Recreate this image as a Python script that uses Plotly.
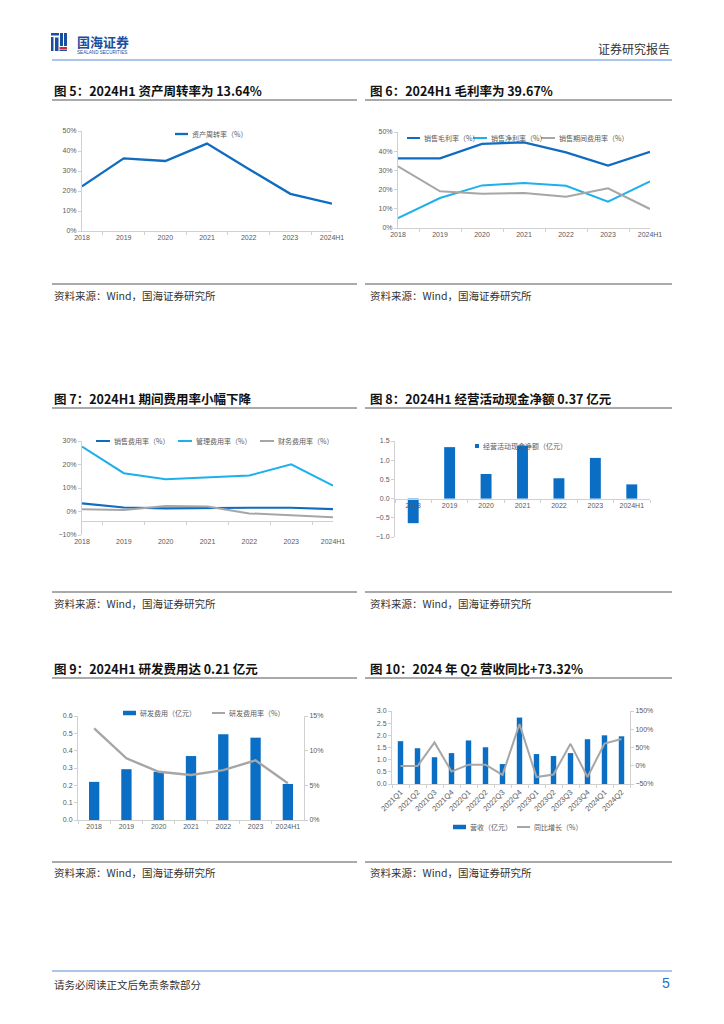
import plotly.graph_objects as go

W, H = 724, 1024
def X(px): return px / W
def Y(py): return 1 - py / H

# ---------------- data ----------------
years = ["2018", "2019", "2020", "2021", "2022", "2023", "2024H1"]

turnover = [22.3, 36.3, 35.0, 43.7, 31.0, 18.6, 13.64]

gross_margin = [36.3, 36.3, 43.8, 44.6, 39.4, 32.5, 39.67]
net_margin = [5.2, 15.6, 22.2, 23.4, 22.0, 13.7, 24.3]
period_exp = [32.1, 19.1, 17.9, 18.2, 16.3, 20.7, 9.9]

sales_exp = [3.5, 1.7, 1.3, 1.6, 1.6, 1.6, 1.0]
admin_exp = [27.6, 16.3, 13.7, 14.4, 15.3, 20.1, 11.0]
fin_exp = [1.0, 0.6, 2.3, 2.1, -0.8, -1.6, -2.4]

op_cash = [-0.64, 1.34, 0.64, 1.38, 0.53, 1.06, 0.37]

rd_cost = [0.22, 0.293, 0.278, 0.369, 0.494, 0.475, 0.208]
rd_rate = [13.2, 8.9, 6.95, 6.5, 7.2, 8.6, 5.3]

quarters = ["2021Q1", "2021Q2", "2021Q3", "2021Q4", "2022Q1", "2022Q2", "2022Q3",
            "2022Q4", "2023Q1", "2023Q2", "2023Q3", "2023Q4", "2024Q1", "2024Q2"]
revenue = [1.76, 1.47, 1.10, 1.27, 1.79, 1.51, 0.82, 2.73, 1.23, 1.15, 1.27, 1.84, 2.00, 1.96]
rev_yoy = [-1, -1, 64, -16, 3, 3, -25, 114, -31, -24, 60, -31, 61, 73.32]

titles = ["图 5：2024H1 资产周转率为 13.64%", "图 6：2024H1 毛利率为 39.67%",
          "图 7：2024H1 期间费用率小幅下降", "图 8：2024H1 经营活动现金净额 0.37 亿元",
          "图 9：2024H1 研发费用达 0.21 亿元", "图 10：2024 年 Q2 营收同比+73.32%"]
source = "资料来源：Wind，国海证券研究所"

# ---------------- style ----------------
DARK = "#0f6cc0"
BAR = "#0a6fc4"
LIGHT = "#1eb0ea"
GRAY = "#a6a6a6"
AX = "#d0d0d0"
TXT = "#595959"
CJK = "Noto Sans CJK SC"
LAT = "Liberation Sans, Noto Sans CJK SC"

fig = go.Figure()

# chart 5
fig.add_trace(go.Scatter(x=years, y=turnover, mode="lines", line=dict(color=DARK, width=2.3),
                         xaxis="x", yaxis="y", name="资产周转率（%）"))
# chart 6
fig.add_trace(go.Scatter(x=years, y=gross_margin, mode="lines", line=dict(color=DARK, width=2.2),
                         xaxis="x2", yaxis="y2", name="销售毛利率（%）"))
fig.add_trace(go.Scatter(x=years, y=net_margin, mode="lines", line=dict(color=LIGHT, width=2),
                         xaxis="x2", yaxis="y2", name="销售净利率（%）"))
fig.add_trace(go.Scatter(x=years, y=period_exp, mode="lines", line=dict(color=GRAY, width=2),
                         xaxis="x2", yaxis="y2", name="销售期间费用率（%）"))
# chart 7
fig.add_trace(go.Scatter(x=years, y=sales_exp, mode="lines", line=dict(color=DARK, width=2.2),
                         xaxis="x3", yaxis="y3", name="销售费用率（%）"))
fig.add_trace(go.Scatter(x=years, y=admin_exp, mode="lines", line=dict(color=LIGHT, width=2),
                         xaxis="x3", yaxis="y3", name="管理费用率（%）"))
fig.add_trace(go.Scatter(x=years, y=fin_exp, mode="lines", line=dict(color=GRAY, width=2),
                         xaxis="x3", yaxis="y3", name="财务费用率（%）"))
# chart 8
fig.add_trace(go.Bar(x=years, y=op_cash, marker=dict(color=BAR, line=dict(width=0)), width=0.3,
                     xaxis="x4", yaxis="y4", name="经营活动现金净额（亿元）"))
# chart 9
fig.add_trace(go.Bar(x=years, y=rd_cost, marker=dict(color=BAR, line=dict(width=0)), width=0.32,
                     xaxis="x5", yaxis="y5", name="研发费用（亿元）"))
fig.add_trace(go.Scatter(x=years, y=rd_rate, mode="lines", line=dict(color=GRAY, width=2.4),
                         xaxis="x5", yaxis="y6", name="研发费用率（%）"))
# chart 10
fig.add_trace(go.Bar(x=quarters, y=revenue, marker=dict(color=BAR, line=dict(width=0)), width=0.32,
                     xaxis="x6", yaxis="y7", name="营收（亿元）"))
fig.add_trace(go.Scatter(x=quarters, y=rev_yoy, mode="lines", line=dict(color=GRAY, width=2),
                         xaxis="x6", yaxis="y8", name="同比增长（%）"))

tickfont = dict(size=7, color=TXT, family=LAT)

def xax(x0, x1, anchor, **kw):
    d = dict(domain=[X(x0), X(x1)], anchor=anchor, type="category", showline=True,
             linecolor=AX, linewidth=1, ticks="outside", tickson="boundaries", ticklen=3,
             tickcolor=AX, tickfont=tickfont, showgrid=False, zeroline=False, fixedrange=True,
             automargin=False, tickangle=0)
    d.update(kw)
    return d

def yax(ytop, ybot, anchor, rng, dtick, **kw):
    d = dict(domain=[Y(ybot), Y(ytop)], anchor=anchor, range=rng, dtick=dtick, showline=True,
             linecolor=AX, linewidth=1, ticks="outside", ticklen=3, tickcolor=AX,
             tickfont=tickfont, showgrid=False, zeroline=False, fixedrange=True,
             automargin=False)
    d.update(kw)
    return d

layout = dict(
    width=W, height=H, margin=dict(l=0, r=0, t=0, b=0, pad=0), autosize=False,
    paper_bgcolor="white", plot_bgcolor="rgba(0,0,0,0)", showlegend=False,
    font=dict(family=CJK, color="#222"),
    xaxis=xax(82, 332, "y"),
    yaxis=yax(131, 231, "x", [0, 50], 10, ticksuffix="%"),
    xaxis2=xax(398, 650, "y2"),
    yaxis2=yax(132, 228, "x2", [0, 50], 10, ticksuffix="%"),
    xaxis3=xax(82, 333, "free", position=Y(521), ticklabelstandoff=14),
    yaxis3=yax(441, 535, "x3", [-10, 30], 10, ticksuffix="%"),
    xaxis4=xax(395, 650, "free", position=Y(441 + 1.5 / 2.5 * 96)),
    yaxis4=yax(441, 537, "x4", [-1, 1.5], 0.5, tickformat=".1f"),
    xaxis5=xax(78, 304, "y5"),
    yaxis5=yax(716, 820, "x5", [0, 0.6], 0.1, tickformat=".1f"),
    yaxis6=yax(716, 820, "x5", [0, 15], 5, ticksuffix="%", overlaying="y5", side="right"),
    xaxis6=xax(392, 630, "y7", tickangle=-45, tickfont=dict(size=7.5, color=TXT, family=LAT)),
    yaxis7=yax(711, 784, "x6", [0, 3], 0.5, tickformat=".1f"),
    yaxis8=yax(711, 784, "x6", [-50, 150], 50, ticksuffix="%", overlaying="y7", side="right"),
)
fig.update_layout(**layout)

shapes = []
ann = []

def hline(x0, x1, y, color, width):
    shapes.append(dict(type="line", xref="paper", yref="paper", x0=X(x0), x1=X(x1),
                       y0=Y(y), y1=Y(y), line=dict(color=color, width=width)))

def rect(x0, x1, y0, y1, color):
    shapes.append(dict(type="rect", xref="paper", yref="paper", x0=X(x0), x1=X(x1),
                       y0=Y(y1), y1=Y(y0), fillcolor=color, line=dict(width=0)))

def text(x, y, s, size, color="#222", xanchor="left", bold=False, family=CJK):
    if bold:
        s = "<b>" + s + "</b>"
    ann.append(dict(xref="paper", yref="paper", x=X(x), y=Y(y), text=s, showarrow=False,
                    xanchor=xanchor, yanchor="middle", font=dict(size=size, color=color, family=family)))

def leg_line(x0, x1, y, color, label, w=2):
    hline(x0, x1, y, color, w)
    text(x1 + 2, y, label, 7, TXT)

def leg_box(x0, x1, y, h, color, label):
    rect(x0, x1, y - h / 2, y + h / 2, color)
    text(x1 + 2, y, label, 7, TXT)

# header
hline(52, 672, 60, "#8fb3e2", 1.5)
# logo icon
rect(51, 59, 33, 35.5, "#1a4ea0")
rect(51, 53.5, 37, 51, "#1a4ea0")
rect(55, 58.5, 37.5, 51, "#1a4ea0")
rect(60, 63, 33, 46, "#1a4ea0")
rect(64, 67, 33, 46, "#1a4ea0")
rect(59.5, 67, 47, 49, "#d8262e")
rect(59.5, 67, 49.5, 51, "#1a4ea0")
text(75, 41, "国海证券", 13, "#1a4ea0", bold=True)
text(75, 52, "SEALAND SECURITIES", 4.6, "#1a4ea0", family=LAT)
text(672, 48, "证券研究报告", 12, "#333", xanchor="right")

# titles & rules
for i, t in enumerate(titles):
    col = i % 2
    row = i // 2
    tx = 52 if col == 0 else 368
    ty = [90, 398, 668][row]
    text(tx, ty, t, 12.5, "#111", bold=True)
    lx0, lx1 = (52, 357) if col == 0 else (365, 672)
    hline(lx0, lx1, [100, 408, 678][row], "#555", 1)
    hline(lx0, lx1, [284, 592, 862][row], "#555", 1)
    text(tx, [295, 603, 872][row], source, 10.5, "#333")

# legends
leg_line(175, 188, 134, DARK, "资产周转率（%）", 2.3)

leg_line(407, 420, 138, DARK, "销售毛利率（%）")
leg_line(473, 487, 138, LIGHT, "销售净利率（%）")
leg_line(541, 555, 138, GRAY, "销售期间费用率（%）")

leg_line(96, 110, 441, DARK, "销售费用率（%）")
leg_line(178, 192, 441, LIGHT, "管理费用率（%）")
leg_line(260, 274, 441, GRAY, "财务费用率（%）")

leg_box(475, 479, 446, 4, BAR, "经营活动现金净额（亿元）")

leg_box(123, 136, 713, 4.5, BAR, "研发费用（亿元）")
leg_line(212, 225, 713, GRAY, "研发费用率（%）")

leg_box(453, 466, 827, 4.5, BAR, "营收（亿元）")
leg_line(517, 530, 827, GRAY, "同比增长（%）")

# footer
hline(52, 672, 971, "#8fb3e2", 1.5)
text(52, 984, "请务必阅读正文后免责条款部分", 10.5, "#333")
text(672, 983, "5", 14, "#1f6fd0", xanchor="right", family=LAT)

fig.update_layout(shapes=shapes, annotations=ann)
fig.write_html("out.html", config={"displayModeBar": False},
               post_script="document.body.style.margin='0px';")
